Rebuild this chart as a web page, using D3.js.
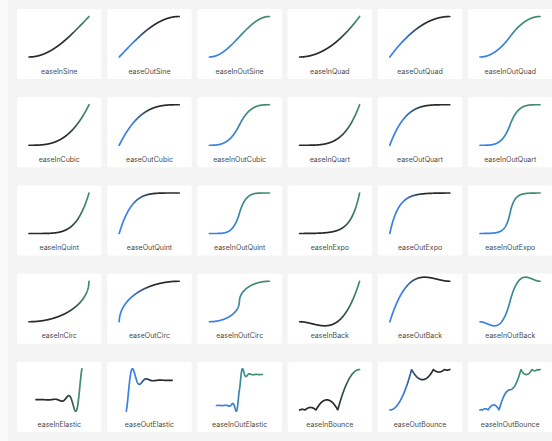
<!DOCTYPE html>
<html>
<head>
<meta charset="utf-8">
<script src="https://cdn.jsdelivr.net/npm/d3@7"></script>
<style>
	html, body { margin: 0; padding: 0; background: #f4f4f4; }
	svg { display: block; }
</style>
</head>
<body>
<svg id="chart"></svg>
<script>
// easing families, one row pair per family, modes fill the columns
const curveTypes = ["Sine", "Quad", "Cubic", "Quart", "Quint", "Expo", "Circ", "Back", "Elastic", "Bounce"];
const curveModes = ["In", "Out", "InOut"];
const easeNames = curveTypes.flatMap((t) => curveModes.map((m) => ({ name: "ease" + m + t, type: t, mode: m })));

const size = { w: 552, h: 441 };
const grid = { cols: 6, left: 17, top: 9, dx: 90.2, dy: 88.25, cardW: 84.5, cardH: 70 };
const colors = { black: "#2a2a2a", blue: "#3a80e6", green: "#3f8d6c" };

const d3Base = { Sine: "Sin", Quad: "Quad", Cubic: "Cubic", Expo: "Exp", Circ: "Circle", Back: "Back", Elastic: "Elastic", Bounce: "Bounce" };

function easeFor(type, mode) {
	if (type === "Quart") return d3["easePoly" + mode].exponent(4);
	if (type === "Quint") return d3["easePoly" + mode].exponent(5);
	if (type === "Back" && mode === "InOut") return d3.easeBackInOut.overshoot(1.70158 * 1.525);
	return d3["ease" + d3Base[type] + mode];
}

const stops = {
	In: [[0, colors.black], [0.6, colors.black], [0.95, colors.green], [1, colors.green]],
	Out: [[0, colors.blue], [0.2, colors.blue], [0.55, colors.black], [1, colors.black]],
	InOut: [[0, colors.blue], [0.3, colors.blue], [0.7, colors.green], [1, colors.green]],
};

const svg = d3.select("#chart").attr("width", size.w).attr("height", size.h);

// slightly lighter strip on the far left
svg.append("rect").attr("x", 0).attr("y", 0).attr("width", 8).attr("height", size.h).attr("fill", "#f9f9f9");

const defs = svg.append("defs");
curveModes.forEach((m) => {
	defs.append("linearGradient")
		.attr("id", "grad-" + m)
		.attr("x1", 0).attr("x2", 1).attr("y1", 0).attr("y2", 0)
		.selectAll("stop")
		.data(stops[m])
		.join("stop")
		.attr("offset", (d) => d[0])
		.attr("stop-color", (d) => d[1]);
});

const samples = d3.range(0, 1.0001, 1 / 240);
const unitW = 60, unitH = 40.5, fitH = 42.5;

const cards = svg.selectAll("g.card")
	.data(easeNames)
	.join("g")
	.classed("card", true)
	.attr("transform", (d, i) => `translate(${grid.left + (i % grid.cols) * grid.dx}, ${grid.top + Math.floor(i / grid.cols) * grid.dy})`);

cards.append("rect")
	.attr("width", grid.cardW)
	.attr("height", grid.cardH)
	.attr("rx", 1.5)
	.attr("fill", "#fff");

cards.each(function (d) {
	const ease = easeFor(d.type, d.mode);
	const pts = samples.map((t) => [t, ease(t)]);
	const [lo, hi] = d3.extent(pts, (p) => p[1]);
	const natural = (hi - lo) * unitH;
	// tall overshooting curves are shrunk to fit the thumbnail
	const k = natural > 52 ? fitH / natural : 1;
	const w = unitW * k;
	const x = d3.scaleLinear().domain([0, 1]).range([42 - w / 2, 42 + w / 2]);
	let y;
	if (k === 1) {
		y = d3.scaleLinear().domain([0, 1]).range([48, 48 - unitH]);
	} else {
		const mid = 28, hh = fitH / 2;
		y = d3.scaleLinear().domain([lo, hi]).range([mid + hh, mid - hh]);
	}
	const line = d3.line().x((p) => x(p[0])).y((p) => y(p[1])).curve(d3.curveLinear);
	d3.select(this).append("path")
		.attr("d", line(pts))
		.attr("fill", "none")
		.attr("stroke", `url(#grad-${d.mode})`)
		.attr("stroke-width", 1.7)
		.attr("stroke-linecap", "round")
		.attr("stroke-linejoin", "round");
});

cards.append("text")
	.attr("x", grid.cardW / 2)
	.attr("y", 64.5)
	.attr("text-anchor", "middle")
	.attr("font-family", "Inter, 'Noto Sans', sans-serif")
	.attr("font-size", 7)
	.attr("fill", "#4a4a4a")
	.text((d) => d.name);
</script>
</body>
</html>
